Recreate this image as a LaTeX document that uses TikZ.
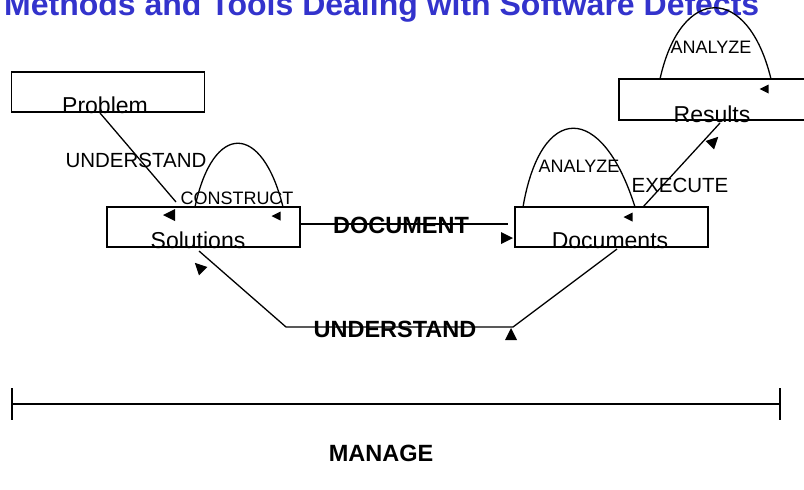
\documentclass[tikz,border=0pt]{standalone}
\usepackage{fontspec}
\setmainfont{Liberation Sans}
\definecolor{titleblue}{RGB}{51,51,204}
\begin{document}
\begin{tikzpicture}[x=1pt,y=-1pt,
  box/.style={draw, line width=1.3pt, inner sep=0pt, minimum width=193pt, minimum height=40pt},
  boxtext/.style={anchor=base, inner sep=0pt, font=\fontsize{23}{27}\selectfont},
  lbl/.style={anchor=base, inner sep=0pt, font=\fontsize{18}{22}\selectfont},
  biglbl/.style={anchor=base, inner sep=0pt, font=\fontsize{20.5}{24}\selectfont},
  boldlbl/.style={anchor=base, inner sep=0pt, font=\bfseries\fontsize{23.5}{28}\selectfont},
  conn/.style={line width=1.3pt},
  bigtri/.pic={\fill (6,0) -- (-6,6) -- (-6,-6) -- cycle;},
  smalltri/.pic={\fill (4.5,0) -- (-4.5,4.5) -- (-4.5,-4.5) -- cycle;}
]
\useasboundingbox (0,0) rectangle (804,490);

% title (cut at the top)
\node[anchor=base west, inner sep=0pt, text=titleblue, font=\bfseries\fontsize{32}{36}\selectfont] (title) at (4,15) {Methods and Tools Dealing with Software Defects};

% boxes
\node[box] (problem) at (108,92) {};
\node[box] (solutions) at (203.5,227) {};
\node[box] (documents) at (611.5,227) {};
\node[box, minimum height=41pt] (results) at (715.5,99.5) {};

\node[boxtext] (problemtxt) at (105,113) {Problem};
\node[boxtext] (solutionstxt) at (198,248) {Solutions};
\node[boxtext] (documentstxt) at (610,248) {Documents};
\node[boxtext] (resultstxt) at (712,122) {Results};

% UNDERSTAND problem -> solutions
\coordinate (u1s) at (100,113);
\coordinate (u1e) at (176,202);
\draw[conn] (u1s) -- (u1e);
\pic[rotate=180] at (169,215) {bigtri};
\node[biglbl] (understandA) at (136,167) {UNDERSTAND};

% CONSTRUCT loop
\coordinate (c1) at (195,207);
\coordinate (c2) at (283,207);
\draw[conn] (c1) .. controls (213,122) and (262,122) .. (c2);
\pic[rotate=180] at (276,216) {smalltri};
\node[lbl] (construct) at (237,204) {CONSTRUCT};

% ANALYZE loop on documents
\coordinate (a1) at (523,207);
\coordinate (a2) at (635,207);
\draw[conn] (a1) .. controls (541,102) and (602,102) .. (a2);
\pic[rotate=180] at (628,217) {smalltri};
\node[lbl] (analyzeA) at (579,172) {ANALYZE};

% ANALYZE loop on results
\coordinate (r1) at (660,79);
\coordinate (r2) at (771,79);
\draw[conn] (r1) .. controls (681,-16) and (748,-16) .. (r2);
\pic[rotate=180] at (764,89) {smalltri};
\node[lbl] (analyzeB) at (711,53) {ANALYZE};

% DOCUMENT
\coordinate (docend) at (508,224);
\draw[conn] ([yshift=3pt]solutions.east) -- (docend);
\pic at (507,238) {bigtri};
\node[boldlbl] (document) at (401,233) {DOCUMENT};

% EXECUTE
\coordinate (e1) at (643,207);
\coordinate (e2) at (720,123);
\draw[conn] (e1) -- (e2);
\pic[rotate=45] at (714,141) {bigtri};
\node[biglbl] (execute) at (680,192) {EXECUTE};

% UNDERSTAND documents -> solutions
\coordinate (b1) at (617,249);
\coordinate (b2) at (513,327);
\coordinate (b3) at (286,327);
\coordinate (b4) at (199,251);
\draw[conn] (b1) -- (b2) -- (b3) -- (b4);
\pic[rotate=135] at (199,267) {bigtri};
\pic[rotate=90] at (511,334) {bigtri};
\node[boldlbl] (understandB) at (395,337) {UNDERSTAND};

% MANAGE bar
\coordinate (m1) at (12,404);
\coordinate (m2) at (780,404);
\draw[conn] (m1) -- (m2);
\draw[conn] ([yshift=16pt]m1) -- ([yshift=-16pt]m1);
\draw[conn] ([yshift=16pt]m2) -- ([yshift=-16pt]m2);
\node[boldlbl] (manage) at (381,461) {MANAGE};
\end{tikzpicture}
\end{document}
